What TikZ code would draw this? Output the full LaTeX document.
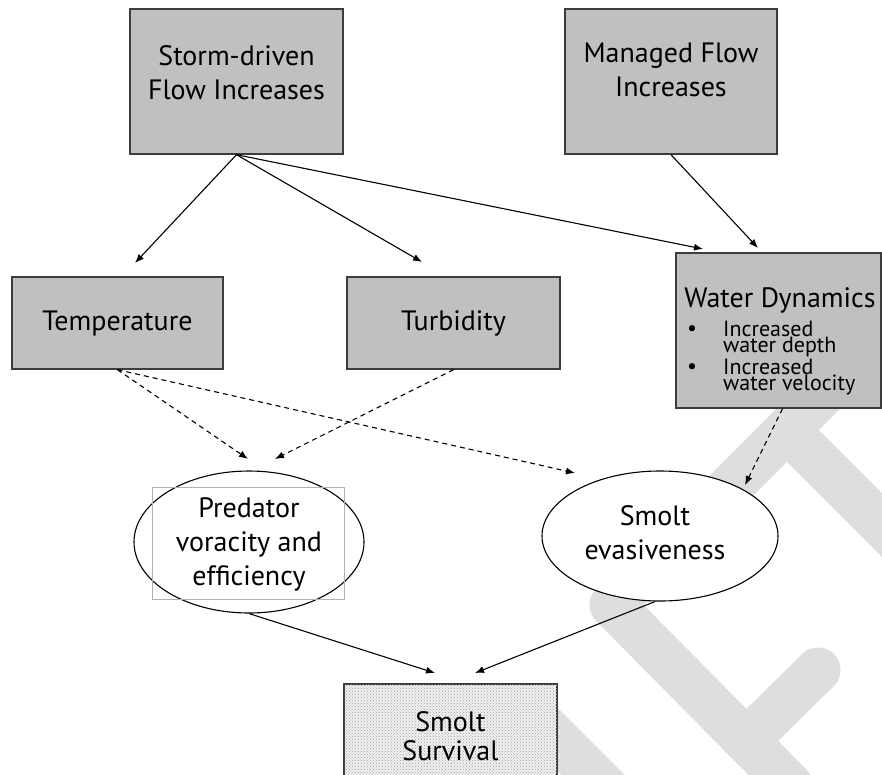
\documentclass[tikz,border=0pt]{standalone}
\usepackage{fontspec}
\setmainfont{PT Sans}
\usetikzlibrary{arrows.meta,shapes.geometric,patterns}
\definecolor{boxgray}{RGB}{192,192,192}
\definecolor{wmgray}{RGB}{222,222,222}
\definecolor{edge}{RGB}{60,60,60}
\begin{document}
\begin{tikzpicture}[x=1pt,y=-1pt,
  graybox/.style={draw=edge,line width=1.4pt,fill=boxgray,rectangle,inner sep=0pt},
  oval/.style={draw=black,line width=1.1pt,fill=white,ellipse,inner sep=0pt},
  lbl/.style={align=center,inner sep=0pt,font=\fontsize{28}{34}\selectfont},
  small/.style={align=left,inner sep=0pt,font=\fontsize{22}{14.5}\selectfont},
  arr/.style={line width=1.1pt,-{Latex[length=9pt,width=7pt]}},
  darr/.style={arr,dash pattern=on 5pt off 4pt},
  wm/.style={wmgray,line width=45pt,line cap=round,line join=round}]
\useasboundingbox (0,0) rectangle (882,774);
\clip (0,0) rectangle (882,774);
% watermark
\draw[wm] (790,785) -- (612,605) -- (910,307);
\draw[wm] (787,430) -- (940,583);
\draw[wm] (747,740) -- (818,670);
\draw[wm] (540,722) -- (610,792);
% boxes
\node[graybox,minimum width=213pt,minimum height=145pt] (storm) at (236.5,81.5) {};
\node[lbl] (stormt) at (236.5,73) {Storm-driven\\Flow Increases};
\node[graybox,minimum width=212pt,minimum height=145pt] (managed) at (671,81.5) {};
\node[lbl] (managedt) at (671,70) {Managed Flow\\Increases};
\node[graybox,minimum width=211pt,minimum height=92pt] (temp) at (117.5,323) {};
\node[lbl] (tempt) at (117.5,323) {Temperature};
\node[graybox,minimum width=213pt,minimum height=92pt] (turb) at (453.5,323) {};
\node[lbl] (turbt) at (453.5,323) {Turbidity};
\node[graybox,minimum width=205pt,minimum height=155pt] (wd) at (778.5,330.5) {};
\node[lbl] (wdt) at (780,300) {Water Dynamics};
\node[small] (b1) at (692,331) {•};
\node[small,anchor=west] (i1) at (723,339) {Increased\\water depth};
\node[small] (b2) at (692,369) {•};
\node[small,anchor=west] (i2) at (723,377) {Increased\\water velocity};
% ellipses
\node[oval,minimum width=230pt,minimum height=142pt] (pred) at (249,542) {};
\node[draw=gray!60,line width=0.8pt,rectangle,minimum width=192pt,minimum height=112pt,inner sep=0pt] (predbox) at (248,543) {};
\node[lbl] (predt) at (249,544) {Predator\\voracity and\\efficiency};
\node[oval,minimum width=236pt,minimum height=130pt] (smolt) at (660,536) {};
\node[lbl] (smoltt) at (655,533) {Smolt\\evasiveness};
% survival
\node[draw=edge,line width=1.4pt,fill=gray!12,postaction={pattern=crosshatch dots,pattern color=gray!75},rectangle,minimum width=213pt,minimum height=106pt,inner sep=0pt] (surv) at (450.5,737) {};
\node[lbl,font=\fontsize{28}{29}\selectfont] (survt) at (450.5,736) {Smolt\\Survival};
% arrow tips
\coordinate (tT) at (135,263);
\coordinate (tU) at (422,262);
\coordinate (tW) at (703,249);
\coordinate (tM) at (758,248);
\coordinate (dP1) at (248,459);
\coordinate (dP2) at (275,459);
\coordinate (dS1) at (575,473);
\coordinate (dS2) at (745,485);
\coordinate (sV1) at (435,673);
\coordinate (sV2) at (475,673);
% connectors
\draw[arr] (storm.south) -- (tT);
\draw[arr] (storm.south) -- (tU);
\draw[arr] (storm.south) -- (tW);
\draw[arr] (managed.south) -- (tM);
\draw[darr] (temp.south) -- (dP1);
\draw[darr] (temp.south) -- (dS1);
\draw[darr] (turb.south) -- (dP2);
\draw[darr] ([xshift=4pt]wd.south) -- (dS2);
\draw[arr] (pred.south) -- (sV1);
\draw[arr] ([xshift=-5pt]smolt.south) -- (sV2);
\end{tikzpicture}
\end{document}
